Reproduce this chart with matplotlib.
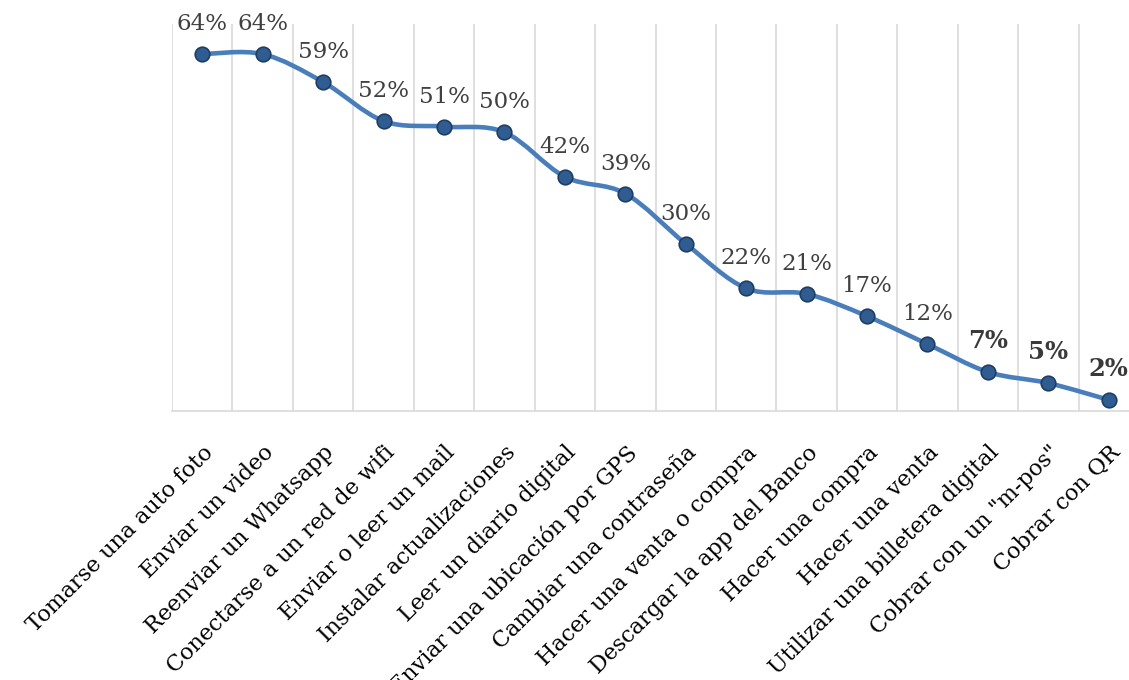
import numpy as np
import matplotlib
matplotlib.use("Agg")
from matplotlib import pyplot as plt
from matplotlib.path import Path
from matplotlib.patches import PathPatch
from matplotlib.transforms import ScaledTranslation

# data
categories = [
    "Tomarse una auto foto",
    "Enviar un video",
    "Reenviar un Whatsapp",
    "Conectarse a un red de wifi",
    "Enviar o leer un mail",
    "Instalar actualizaciones",
    "Leer un diario digital",
    "Enviar una ubicación por GPS",
    "Cambiar una contraseña",
    "Hacer una venta o compra",
    "Descargar la app del Banco",
    "Hacer una compra",
    "Hacer una venta",
    "Utilizar una billetera digital",
    'Cobrar con un "m-pos"',
    "Cobrar con QR",
]
values = [64, 64, 59, 52, 51, 50, 42, 39, 30, 22, 21, 17, 12, 7, 5, 2]
bold_labels = [13, 14, 15]

plt.rcParams['font.family'] = ['DejaVu Serif']

line_color = '#4A7EBB'
marker_face = '#2F5D92'
marker_edge = '#1F3D63'
grid_color = '#D9D9D9'
text_color = '#404040'

fig = plt.figure(figsize=(11.29, 6.8), dpi=100)
ax = fig.add_axes([172 / 1129, 1 - 411 / 680, (1139 - 172) / 1129, (411 - 24) / 680])

x = np.arange(len(values), dtype=float)
y = np.array(values, dtype=float)

# smoothed line: cubic bezier segments with catmull-rom style control points
verts = [(x[0], y[0])]
codes = [Path.MOVETO]
n = len(x)
for i in range(n - 1):
    p0 = np.array([x[max(i - 1, 0)], y[max(i - 1, 0)]])
    p1 = np.array([x[i], y[i]])
    p2 = np.array([x[i + 1], y[i + 1]])
    p3 = np.array([x[min(i + 2, n - 1)], y[min(i + 2, n - 1)]])
    c1 = p1 + (p2 - p0) / 6.0
    c2 = p2 - (p3 - p1) / 6.0
    verts += [tuple(c1), tuple(c2), tuple(p2)]
    codes += [Path.CURVE4] * 3
curve = PathPatch(Path(verts, codes), facecolor='none', edgecolor=line_color,
                  linewidth=3.3, capstyle='round', joinstyle='round', zorder=3)
ax.add_patch(curve)

ax.plot(x, y, linestyle='none', marker='o', markersize=10.5,
        markerfacecolor=marker_face, markeredgecolor=marker_edge,
        markeredgewidth=1.2, zorder=4)

# data labels
for i, v in enumerate(values):
    if i in bold_labels:
        ax.annotate("{}%".format(v), (x[i], v), xytext=(0, 22.5), textcoords='offset points',
                    ha='center', va='center', fontsize=17.5, fontweight='bold',
                    color='#3A3A3A', zorder=5)
    else:
        ax.annotate("{}%".format(v), (x[i], v), xytext=(0, 21.5), textcoords='offset points',
                    ha='center', va='center', fontsize=16.5, color=text_color, zorder=5)

ax.set_xlim(-0.5, len(values) - 0.5)
ax.set_ylim(0, 69.4)

ax.set_xticks(x)
ax.set_xticklabels(categories, rotation=45, ha='right', va='top',
                   rotation_mode='anchor', fontsize=16, color='black')
# nudge the slanted labels a little up and left
shift = ScaledTranslation(-7 / 100, 4 / 100, fig.dpi_scale_trans)
for lbl in ax.get_xticklabels():
    lbl.set_transform(lbl.get_transform() + shift)
ax.set_xticks(np.arange(-0.5, len(values), 1.0), minor=True)
ax.tick_params(axis='x', which='major', length=0, pad=22)
ax.tick_params(axis='x', which='minor', length=0)
ax.grid(axis='x', which='minor', color=grid_color, linewidth=1.2)
ax.set_yticks([])

for side in ['top', 'left', 'right']:
    ax.spines[side].set_visible(False)
ax.spines['bottom'].set_color(grid_color)
ax.spines['bottom'].set_linewidth(1.2)

fig.savefig("out.png", dpi=100)
